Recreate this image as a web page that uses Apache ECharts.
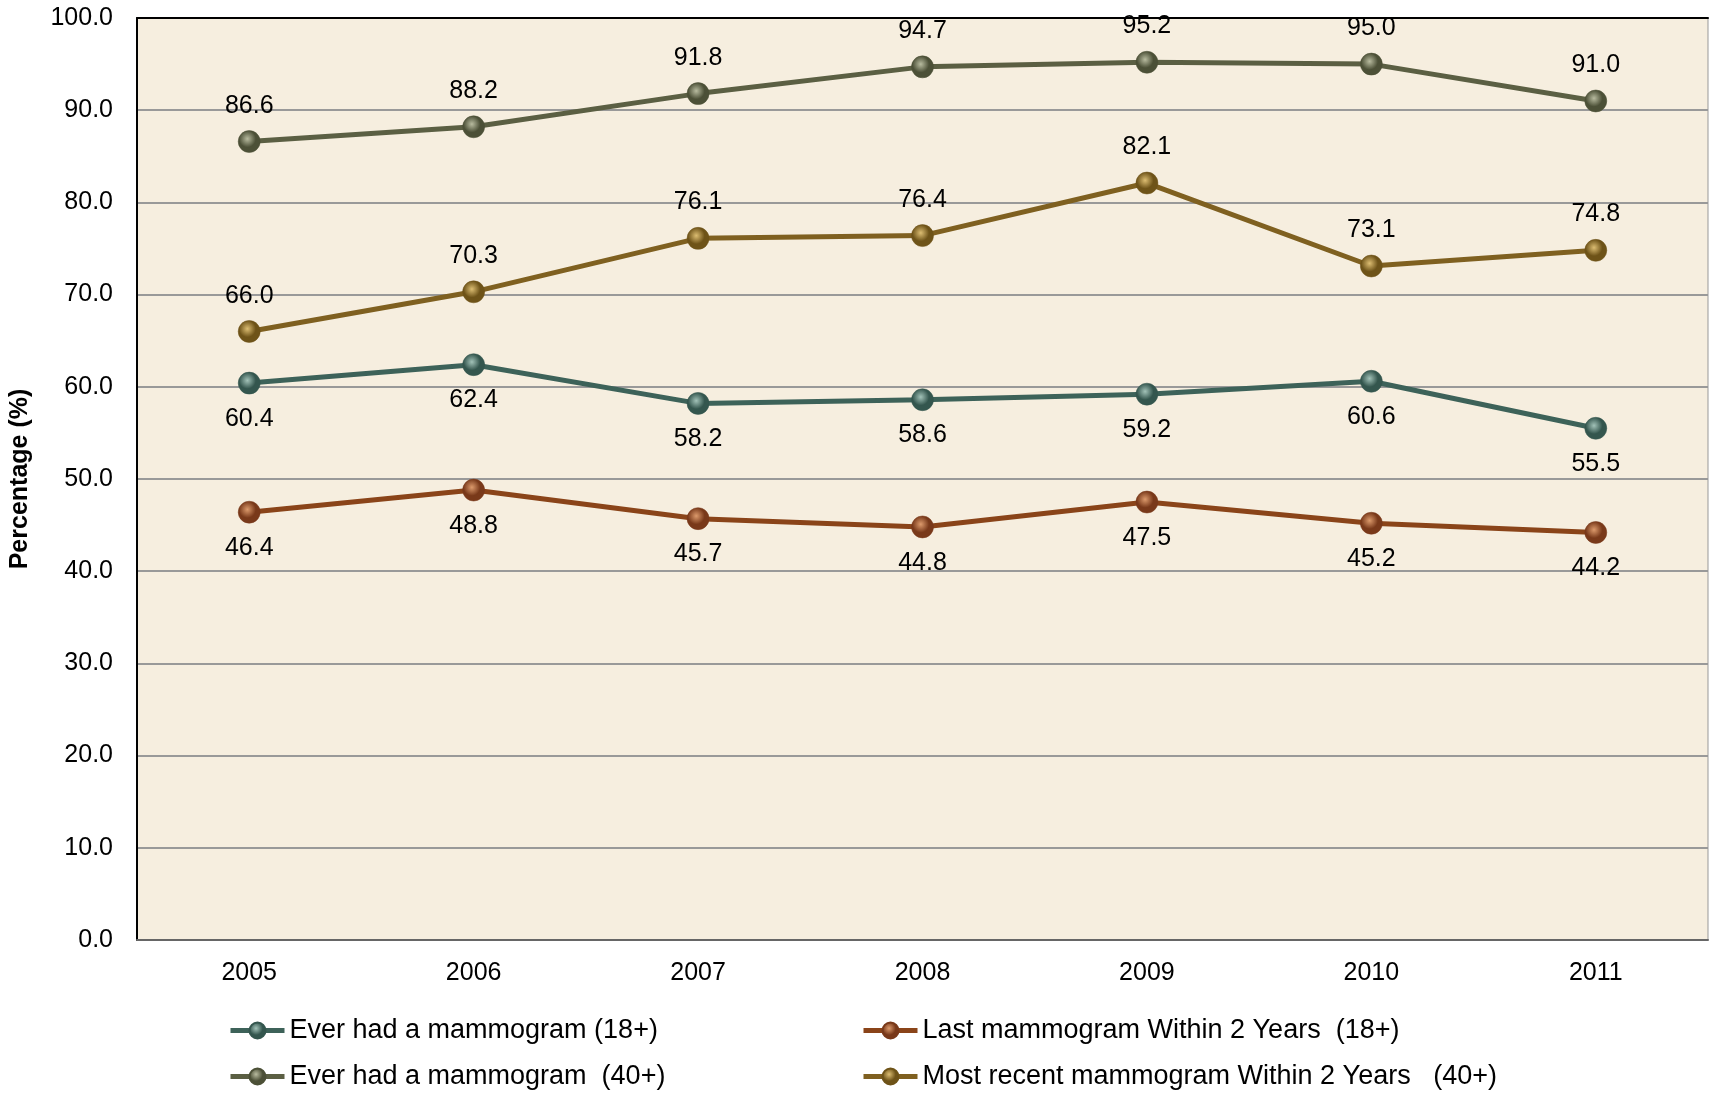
<!DOCTYPE html>
<html lang="en">
<head>
    <meta charset="UTF-8">
    <title>Mammogram trends</title>
    <script src="https://cdn.jsdelivr.net/npm/echarts@6/dist/echarts.min.js"></script>
</head>
<body style="margin:0;background:#fff;">
<div id="main" style="width:1711px;height:1094px;"></div>
<script type="text/javascript">
    // data
    var years = ['2005', '2006', '2007', '2008', '2009', '2010', '2011'];
    var ever18 = [60.4, 62.4, 58.2, 58.6, 59.2, 60.6, 55.5];
    var last18 = [46.4, 48.8, 45.7, 44.8, 47.5, 45.2, 44.2];
    var ever40 = [86.6, 88.2, 91.8, 94.7, 95.2, 95.0, 91.0];
    var recent40 = [66.0, 70.3, 76.1, 76.4, 82.1, 73.1, 74.8];
    var names = [
        'Ever had a mammogram (18+)',
        'Last mammogram Within 2 Years  (18+)',
        'Ever had a mammogram  (40+)',
        'Most recent mammogram Within 2 Years   (40+)'
    ];

    var font = "'Liberation Sans', Arial, Helvetica, sans-serif";

    // shiny ball marker
    function ball(light, dark) {
        return {
            type: 'radial', x: 0.42, y: 0.38, r: 0.62,
            colorStops: [
                {offset: 0, color: light},
                {offset: 0.6, color: dark},
                {offset: 1, color: dark}
            ]
        };
    }

    function makeSeries(name, data, line, light, dark, pos) {
        return {
            name: name,
            type: 'line',
            data: data,
            symbol: 'circle',
            symbolSize: 22,
            lineStyle: {color: line, width: 5},
            itemStyle: {color: ball(light, dark), borderColor: dark, borderWidth: 0.5},
            label: {
                show: true,
                position: pos,
                distance: 12,
                color: '#000',
                fontSize: 25,
                fontFamily: font,
                formatter: function (p) { return p.value.toFixed(1); }
            },
            emphasis: {disabled: true}
        };
    }

    // one legend per entry so the 2x2 layout holds
    function legendAt(name, left, top) {
        return {
            left: left,
            top: top,
            padding: 0,
            itemWidth: 54,
            itemHeight: 20,
            lineStyle: {width: 5},
            data: [name],
            textStyle: {fontSize: 27, color: '#000', fontFamily: font}
        };
    }

    var myEChart = echarts.init(document.getElementById('main'));
    myEChart.setOption({
        animation: false,
        grid: {
            left: 137, top: 18, right: 3, bottom: 154,
            show: true,
            backgroundColor: '#f6eedf',
            borderColor: '#999',
            borderWidth: 1
        },
        legend: [
            legendAt(names[0], 228, 1017),
            legendAt(names[2], 228, 1063),
            legendAt(names[1], 861, 1017),
            legendAt(names[3], 861, 1063)
        ],
        xAxis: [
            {
                type: 'category',
                data: years,
                axisLine: {lineStyle: {color: '#666', width: 2}},
                axisTick: {show: false},
                axisLabel: {fontSize: 25, color: '#000', margin: 21, fontFamily: font}
            },
            {
                type: 'category',
                position: 'top',
                data: years,
                axisLine: {lineStyle: {color: '#000', width: 2}},
                axisTick: {show: false},
                axisLabel: {show: false}
            }
        ],
        yAxis: {
            type: 'value',
            min: 0,
            max: 100,
            interval: 10,
            name: 'Percentage (%)',
            nameLocation: 'middle',
            nameRotate: 90,
            nameGap: 104,
            nameTextStyle: {fontSize: 25, fontWeight: 'bold', color: '#000', fontFamily: font},
            axisLine: {show: true, lineStyle: {color: '#000', width: 2}},
            axisTick: {show: false},
            axisLabel: {
                fontSize: 25, color: '#000', margin: 24, fontFamily: font,
                formatter: function (v) { return v.toFixed(1); }
            },
            splitLine: {lineStyle: {color: '#999', width: 2}}
        },
        series: [
            makeSeries(names[0], ever18, '#3d6259', '#a2c2b8', '#34564e', 'bottom'),
            makeSeries(names[1], last18, '#8a4419', '#dc9a6c', '#79391a', 'bottom'),
            makeSeries(names[2], ever40, '#5b5f43', '#b8bb9f', '#4c5037', 'top'),
            makeSeries(names[3], recent40, '#7f6020', '#dcbd72', '#6e5318', 'top')
        ]
    });
</script>
</body>
</html>
